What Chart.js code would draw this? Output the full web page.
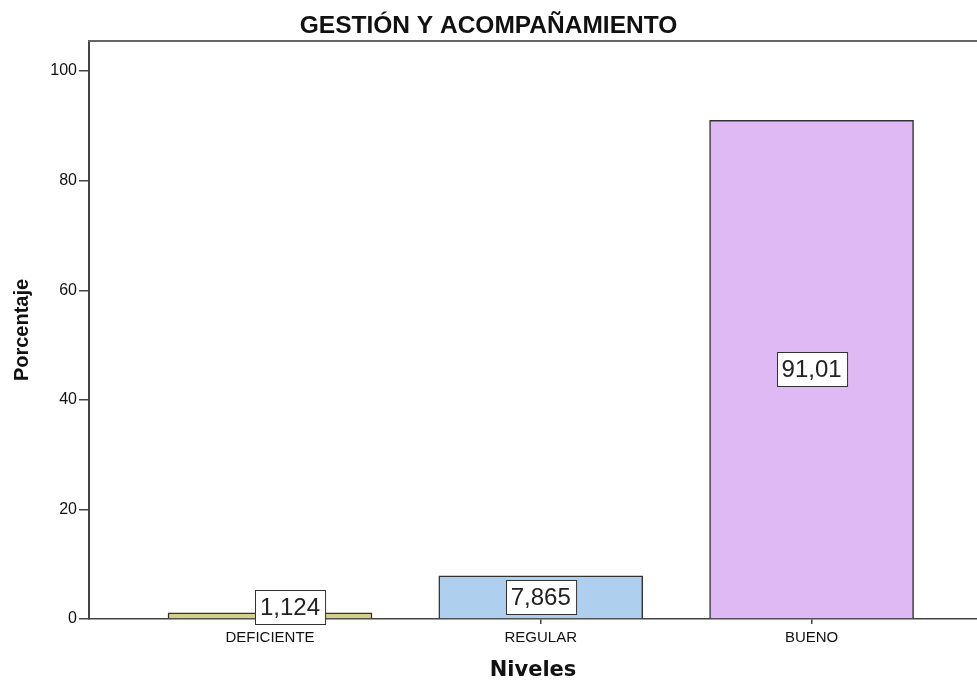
<!DOCTYPE html>
<html>
<head>
<meta charset="utf-8">
<script src="https://cdn.jsdelivr.net/npm/chart.js@4.4.1/dist/chart.umd.min.js"></script>
<style>
  html, body { margin: 0; padding: 0; background: #fff; }
  #wrap { width: 977px; height: 682px; }
</style>
</head>
<body>
<div id="wrap"><canvas id="chart"></canvas></div>
<script>
/* ================= DATA ================= */
const categories = ["DEFICIENTE", "REGULAR", "BUENO"];
const percentages = [1.124, 7.865, 91.01];
const valueLabels = ["1,124", "7,865", "91,01"];
const barColors = ["#d3cf8b", "#aed0ee", "#dfb9f3"];
const yTicks = [0, 20, 40, 60, 80, 100];

const AXIS_COLOR = "#444";
const FONT = "'Liberation Sans', Arial, sans-serif";
// the first label box sits a little right of its bar in the original
const LABEL_NUDGE_X = [20, 0, 0];

/* ================= PLUGINS ================= */
// top frame line of the plot area
const topFrame = {
  id: "topFrame",
  afterDraw(chart) {
    const { ctx, chartArea } = chart;
    ctx.save();
    ctx.strokeStyle = "#666";
    ctx.lineWidth = 2;
    ctx.beginPath();
    ctx.moveTo(chartArea.left - 1, chartArea.top);
    ctx.lineTo(chartArea.right, chartArea.top);
    ctx.stroke();
    ctx.restore();
  }
};

// boxed value labels in the middle of each bar
const boxedLabels = {
  id: "boxedLabels",
  afterDatasetsDraw(chart) {
    const { ctx } = chart;
    const meta = chart.getDatasetMeta(0);
    ctx.save();
    ctx.font = "24px " + FONT;
    ctx.textAlign = "center";
    ctx.textBaseline = "middle";
    meta.data.forEach((bar, i) => {
      const text = valueLabels[i];
      const cx = bar.x + LABEL_NUDGE_X[i];
      const w = ctx.measureText(text).width + 10;
      const h = 34;
      const mid = (bar.y + bar.base) / 2;
      const cy = Math.min(mid, bar.base + 6 - h / 2);
      const x0 = Math.round(cx - w / 2) + 0.5;
      const y0 = Math.round(cy - h / 2) + 0.5;
      ctx.fillStyle = "#fff";
      ctx.fillRect(x0, y0, w, h);
      ctx.strokeStyle = "#333";
      ctx.lineWidth = 1;
      ctx.strokeRect(x0, y0, w, h);
      ctx.fillStyle = "#222";
      ctx.fillText(text, cx, cy + 1);
    });
    ctx.restore();
  }
};

/* ================= CHART ================= */
const ctx = document.getElementById("chart").getContext("2d");

new Chart(ctx, {
  type: "bar",
  data: {
    datasets: [{
      data: percentages.map((v, i) => ({ x: i, y: v })),
      backgroundColor: barColors,
      borderColor: "#333",
      borderWidth: 1.5,
      barThickness: 204
    }]
  },
  plugins: [topFrame, boxedLabels],
  options: {
    responsive: true,
    maintainAspectRatio: false,
    animation: false,
    layout: { padding: 0 },
    plugins: {
      legend: { display: false },
      tooltip: { enabled: false },
      title: {
        display: true,
        text: "GESTIÓN Y ACOMPAÑAMIENTO",
        color: "#111",
        font: { family: FONT, size: 24.5, weight: "bold", lineHeight: 1.1 },
        padding: { top: 13, bottom: 1 }
      }
    },
    scales: {
      x: {
        type: "linear",
        offset: false,
        min: -0.6685,
        max: 2.611,
        afterBuildTicks: scale => {
          scale.ticks = categories.map((_, i) => ({ value: i }));
        },
        afterFit: scale => { scale.height = 63; },
        ticks: {
          autoSkip: false,
          maxRotation: 0,
          padding: 5,
          color: "#111",
          font: { family: FONT, size: 15 },
          callback: value => categories[value]
        },
        grid: {
          offset: false,
          drawOnChartArea: false,
          drawTicks: true,
          tickLength: 5,
          color: AXIS_COLOR,
          lineWidth: 1.5
        },
        border: { color: AXIS_COLOR, width: 1.5 },
        title: {
          display: true,
          text: "Niveles",
          color: "#111",
          font: { family: "'DejaVu Sans', Verdana, sans-serif", size: 21, weight: "bold", lineHeight: 1 },
          padding: { top: 0, bottom: 0.5 }
        }
      },
      y: {
        min: 0,
        max: 105.5,
        afterBuildTicks: scale => {
          scale.ticks = yTicks.map(v => ({ value: v }));
        },
        afterFit: scale => { scale.width = 89; },
        ticks: {
          padding: 2,
          color: "#111",
          font: { family: FONT, size: 16 }
        },
        grid: {
          drawOnChartArea: false,
          drawTicks: true,
          tickLength: 10,
          color: AXIS_COLOR,
          lineWidth: 1.5
        },
        border: { color: AXIS_COLOR, width: 2 },
        title: {
          display: true,
          text: "Porcentaje",
          color: "#111",
          font: { family: FONT, size: 20, weight: "bold" },
          padding: { top: 10, bottom: 0 }
        }
      }
    }
  }
});
</script>
</body>
</html>
